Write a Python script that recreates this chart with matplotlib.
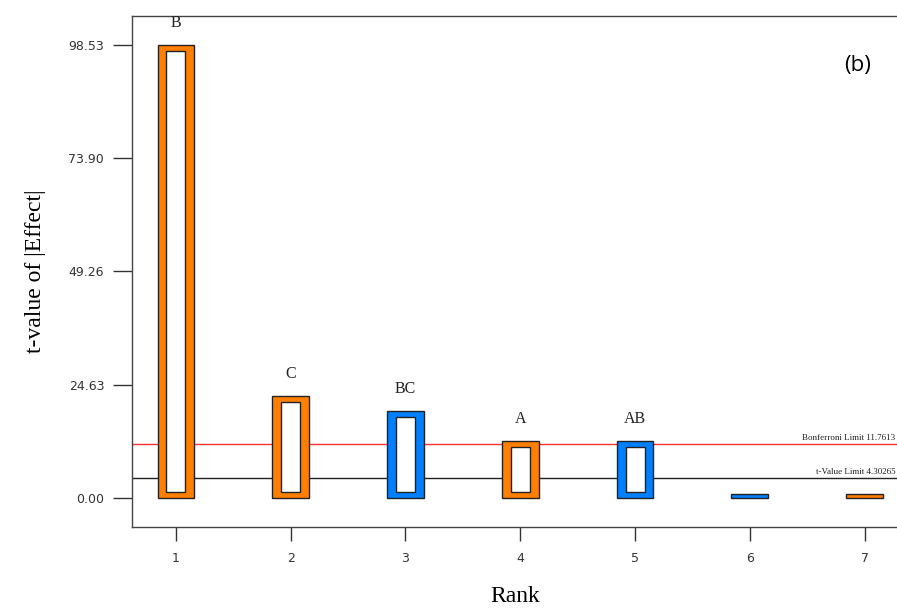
import matplotlib
matplotlib.use("Agg")
import matplotlib.pyplot as plt

ranks = [1, 2, 3, 4, 5, 6, 7]
labels = ["B", "C", "BC", "A", "AB", "", ""]
tvalues = [98.53, 22.2, 18.9, 12.4, 12.4, 0.8, 0.8]
colors = ["#FF8000", "#FF8000", "#0080FF", "#FF8000", "#0080FF", "#0080FF", "#FF8000"]
yticks = [0.00, 24.63, 49.26, 73.90, 98.53]
bonferroni = 11.7613
tlimit = 4.30265

fig = plt.figure(figsize=(8.97, 6.08), dpi=100)
ax = fig.add_axes([132/897, 81/608, 767/897, 511/608])

serif = "Liberation Serif"
outer_w = 0.32
inner_w = 0.165
inset = 1.3

ax.axhline(bonferroni, color="#FF3030", lw=1.0, zorder=1)
ax.axhline(tlimit, color="#222222", lw=1.0, zorder=1)

for r, v, c, lab in zip(ranks, tvalues, colors, labels):
    ax.bar(r, v, width=outer_w, color=c, edgecolor="#222222", linewidth=1.0, zorder=2)
    if v > 3 * inset:
        ax.bar(r, v - 2 * inset, bottom=inset, width=inner_w, color="white",
               edgecolor="#222222", linewidth=1.0, zorder=3)
    if lab:
        ax.annotate(lab, (r, v), xytext=(0, 10), textcoords="offset points",
                    ha="center", va="bottom", fontsize=11.5, family=serif, color="#222222")

ax.text(7.27, bonferroni + 0.4, "Bonferroni Limit %.4f" % bonferroni, fontsize=6.5,
        family=serif, ha="right", va="bottom", color="#222222")
ax.text(7.27, tlimit + 0.4, "t-Value Limit %.5f" % tlimit, fontsize=6.5,
        family=serif, ha="right", va="bottom", color="#222222")

ax.set_xlim(0.617, 7.3)
ax.set_ylim(-6.3, 104.8)
ax.set_yticks(yticks)
ax.set_yticklabels(["%.2f" % t for t in yticks])
ax.set_xticks(ranks)
ax.set_xticklabels([str(r) for r in ranks])
ax.tick_params(axis="y", length=14, width=1.0, colors="#333333", labelsize=9, pad=6)
ax.tick_params(axis="x", length=10, width=1.0, colors="#333333", labelsize=9, pad=8)
for lab in ax.get_xticklabels() + ax.get_yticklabels():
    lab.set_family("DejaVu Sans")
    lab.set_color("#333333")
for s in ax.spines.values():
    s.set_color("#444444")
    s.set_linewidth(1.0)

ax.set_ylabel("t-value of |Effect|", fontsize=17, family=serif, labelpad=16)
ax.set_xlabel("Rank", fontsize=17, family=serif, labelpad=15)

fig.text(858/897, 1 - 66/608, "(b)", fontsize=16, family="Open Sans", ha="center", va="center")

fig.savefig("out.png", dpi=100)
